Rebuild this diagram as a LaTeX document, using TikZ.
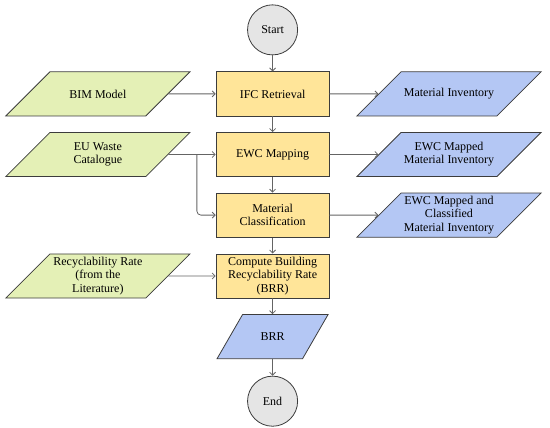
\documentclass[tikz,border=0pt]{standalone}
\usepackage{fontspec}
\setmainfont{Liberation Serif}
\definecolor{fcgreen}{RGB}{228,240,182}
\definecolor{fcyellow}{RGB}{255,229,153}
\definecolor{fcblue}{RGB}{180,199,244}
\definecolor{fcgray}{RGB}{229,229,229}
\definecolor{fcline}{RGB}{60,60,60}
\definecolor{fcarrow}{RGB}{100,100,100}
\usetikzlibrary{arrows.meta,shapes.geometric}

\begin{document}
\begin{tikzpicture}[every node/.style={font=\fontsize{12}{13.2}\selectfont},
    proc/.style={draw=fcline,line width=0.8pt,fill=fcyellow,align=center,
                 minimum width=3.97cm,minimum height=1.55cm,inner sep=1pt},
    io/.style={trapezium,trapezium left angle=45,trapezium right angle=135,trapezium stretches body,
               draw=fcline,line width=0.8pt,minimum width=6.47cm,inner xsep=0.05cm,inner ysep=0.075cm,
               execute at begin node={\begin{minipage}[c][1.4cm][c]{#1}\centering},
               execute at end node={\end{minipage}}},
    io/.default=3.25cm,
    terminal/.style={circle,draw=fcline,line width=0.8pt,fill=fcgray,minimum size=1.76cm},
    flow/.style={draw=fcarrow,line width=0.8pt,-{Straight Barb[length=3pt,width=6pt]}}]

  \useasboundingbox (0,0) rectangle (19.33,-15.04);

  %% Middle column: process steps
  \node[terminal] (start) at (9.58,-1.05) {Start};
  \node[proc] (ifc) at (9.58,-3.30) {IFC Retrieval};
  \node[proc] (ewc) at (9.58,-5.43) {EWC Mapping};
  \node[proc] (cls) at (9.58,-7.56) {Material\\Classification};
  \node[proc] (calc) at (9.58,-9.70) {Compute Building\\Recyclability Rate\\(BRR)};
  \node[io=1.9cm,fill=fcblue,trapezium left angle=60,trapezium right angle=120,
        minimum width=3.90cm] (brr) at (9.58,-11.83) {BRR};
  \node[terminal] (stop) at (9.58,-14.10) {End};

  %% Left column: inputs
  \node[io,fill=fcgreen] (bim) at (3.44,-3.30) {BIM Model};
  \node[io,fill=fcgreen] (euw) at (3.44,-5.43) {EU Waste\\Catalogue};
  \node[io,fill=fcgreen] (rate) at (3.44,-9.70) {Recyclability Rate\\(from the\\Literature)};

  %% Right column: outputs
  \node[io,fill=fcblue] (inv) at (15.78,-3.30) {Material Inventory};
  \node[io,fill=fcblue] (map) at (15.78,-5.43) {EWC Mapped\\Material Inventory};
  \node[io,fill=fcblue] (mapcls) at (15.78,-7.56) {EWC Mapped and\\Classified\\Material Inventory};

  %% Connectors
  \draw[flow] (start) -- (ifc);
  \draw[flow] (ifc) -- (ewc);
  \draw[flow] (ewc) -- (cls);
  \draw[flow] (cls) -- (calc);
  \draw[flow] (calc) -- (brr);
  \draw[flow] (brr) -- (stop);

  \draw[flow] (bim.east) -- (ifc.west);
  \draw[flow] (euw.east) -- (ewc.west);
  \coordinate (split) at (6.92,-5.43);
  \draw[flow,rounded corners=4pt] (split) |- (cls.west);
  \draw[flow] (rate.east) -- (calc.west);

  \draw[flow] (ifc.east) -- (inv.west);
  \draw[flow] (ewc.east) -- (map.west);
  \draw[flow] (cls.east) -- (mapcls.west);
\end{tikzpicture}
\end{document}
